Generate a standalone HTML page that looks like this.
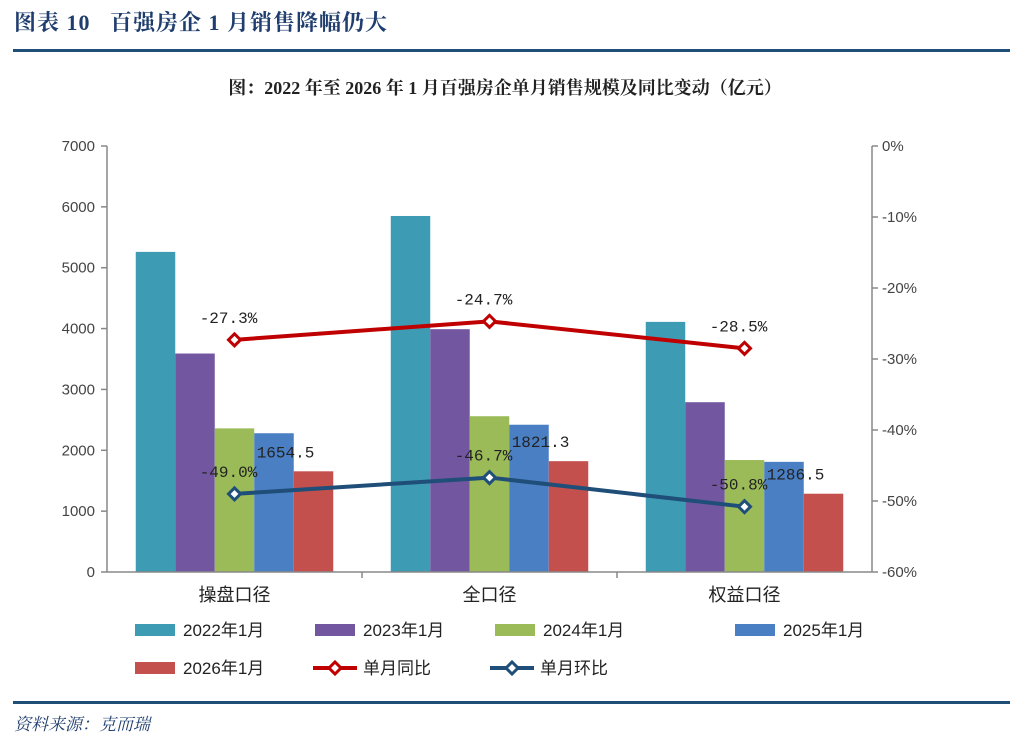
<!DOCTYPE html>
<html><head><meta charset="utf-8"><style>
body{margin:0;width:1024px;height:750px;background:#fff;overflow:hidden;position:relative;font-family:"Liberation Sans","Noto Sans CJK SC",sans-serif}
.hdr{position:absolute;left:14px;top:6px;font:bold 22px "Liberation Serif","Noto Serif CJK SC",serif;color:#1f3d6e;letter-spacing:1px}
.rule{position:absolute;left:13px;width:997px;height:3px;background:#1f4e79}
.ttl{position:absolute;left:0;width:1010px;top:74px;text-align:center;font:bold 18px "Liberation Serif","Noto Serif CJK SC",serif;color:#222}
.src{position:absolute;left:14px;top:710px;font:italic 17px "Liberation Serif","Noto Serif CJK SC",serif;color:#1f3d6e}
svg{position:absolute;left:0;top:0}
</style></head><body>
<div class="hdr">图表 10&nbsp;&nbsp; 百强房企 1 月销售降幅仍大</div>
<div class="rule" style="top:49px"></div>
<div class="ttl">图：2022 年至 2026 年 1 月百强房企单月销售规模及同比变动（亿元）</div>
<div class="rule" style="top:701px"></div>
<div class="src">资料来源：克而瑞</div>
<svg id="chart" width="1024" height="750"></svg>
<script>
const categories=["操盘口径","全口径","权益口径"];
const seriesNames=["2022年1月","2023年1月","2024年1月","2025年1月","2026年1月"];
const s2022=[5260,5850,4110];
const s2023=[3590,3990,2790];
const s2024=[2360,2560,1840];
const s2025=[2280,2420,1810];
const s2026=[1654.5,1821.3,1286.5];
const yoy=[-27.3,-24.7,-28.5];
const mom=[-49.0,-46.7,-50.8];
const leftTicks=[0,1000,2000,3000,4000,5000,6000,7000];
const rightTicks=[0,-10,-20,-30,-40,-50,-60];
const colors=["#3d9bb3","#7256a0","#9bbb59","#4a7fc4","#c4504d"];
const NS="http://www.w3.org/2000/svg",svg=document.getElementById('chart');
function el(t,a,txt){const e=document.createElementNS(NS,t);for(const k in a)e.setAttribute(k,a[k]);if(txt!=null)e.textContent=txt;svg.appendChild(e);return e;}
const X0=107,X1=872,Y0=572,Y1=146;
const yL=v=>Y0-(v/7000)*(Y0-Y1);
const yR=v=>Y1+(-v/60)*(Y0-Y1);
const cw=(X1-X0)/3,bw=39.5;
const cx=i=>X0+cw*(i+0.5);
const all=[s2022,s2023,s2024,s2025,s2026];
all.forEach((s,si)=>s.forEach((v,i)=>{
 const x=cx(i)-2.5*bw+si*bw;
 const r=el('rect',{x:x,y:yL(v),width:bw,height:Y0-yL(v),fill:colors[si]});
 
 
}));
const ax={stroke:'#888','stroke-width':1.5};
el('line',Object.assign({x1:X0,y1:Y1,x2:X0,y2:Y0},ax));
el('line',Object.assign({x1:X1,y1:Y1,x2:X1,y2:Y0},ax));
el('line',Object.assign({x1:X0,y1:Y0,x2:X1,y2:Y0},ax));
leftTicks.forEach(t=>{const y=yL(t);el('line',Object.assign({x1:X0-6,y1:y,x2:X0,y2:y},ax));
 const e=el('text',{x:X0-12,y:y+5,'text-anchor':'end','font-size':15,fill:'#444'},t);
 });
rightTicks.forEach(t=>{const y=yR(t);el('line',Object.assign({x1:X1,y1:y,x2:X1+6,y2:y},ax));
 const e=el('text',{x:X1+10,y:y+5,'font-size':15,fill:'#444'},t+'%');
 });
for(let i=1;i<3;i++)el('line',Object.assign({x1:X0+cw*i,y1:Y0,x2:X0+cw*i,y2:Y0+6},ax));
categories.forEach((c,i)=>{const e=el('text',{x:cx(i),y:Y0+29,'text-anchor':'middle','font-size':18,fill:'#222'},c);
 });
function line(d,col,name){
 const p=d.map((v,i)=>cx(i)+','+yR(v)).join(' ');
 const l=el('polyline',{points:p,fill:'none',stroke:col,'stroke-width':4});
 
 d.forEach((v,i)=>{const x=cx(i),y=yR(v);
  const m=el('path',{d:`M${x-6},${y}L${x},${y-6}L${x+6},${y}L${x},${y+6}Z`,fill:'#fff',stroke:col,'stroke-width':3});
  
  const t=el('text',{x:x-6,y:y-17,'text-anchor':'middle','font-family':'Liberation Mono,monospace','font-size':16,fill:'#222'},v.toFixed(1)+'%');
  });
}
line(yoy,'#c00000','yoy');
line(mom,'#1f4e79','mom');
s2026.forEach((v,i)=>{const x=cx(i)+2*bw;
 const t=el('text',{x:x-28,y:yL(v)-14,'text-anchor':'middle','font-family':'Liberation Mono,monospace','font-size':16,fill:'#222'},v.toFixed(1));
 });
const leg=[[135,630,0],[315,630,1],[495,630,2],[735,630,3],[135,668,4]];
leg.forEach(([x,y,si])=>{
 const r=el('rect',{x:x,y:y-6,width:40,height:12,fill:colors[si]});
 
 const t=el('text',{x:x+48,y:y+6,'font-size':17,fill:'#222'},seriesNames[si]);
 });
[[313,'#c00000','单月同比'],[490,'#1f4e79','单月环比']].forEach(([x,c,n])=>{const y=668;
 el('line',{x1:x,y1:y,x2:x+44,y2:y,stroke:c,'stroke-width':4});
 el('path',{d:`M${x+16},${y}L${x+22},${y-6}L${x+28},${y}L${x+22},${y+6}Z`,fill:'#fff',stroke:c,'stroke-width':3});
 const t=el('text',{x:x+50,y:y+6,'font-size':17,fill:'#222'},n);
 });
</script>
</body></html>
